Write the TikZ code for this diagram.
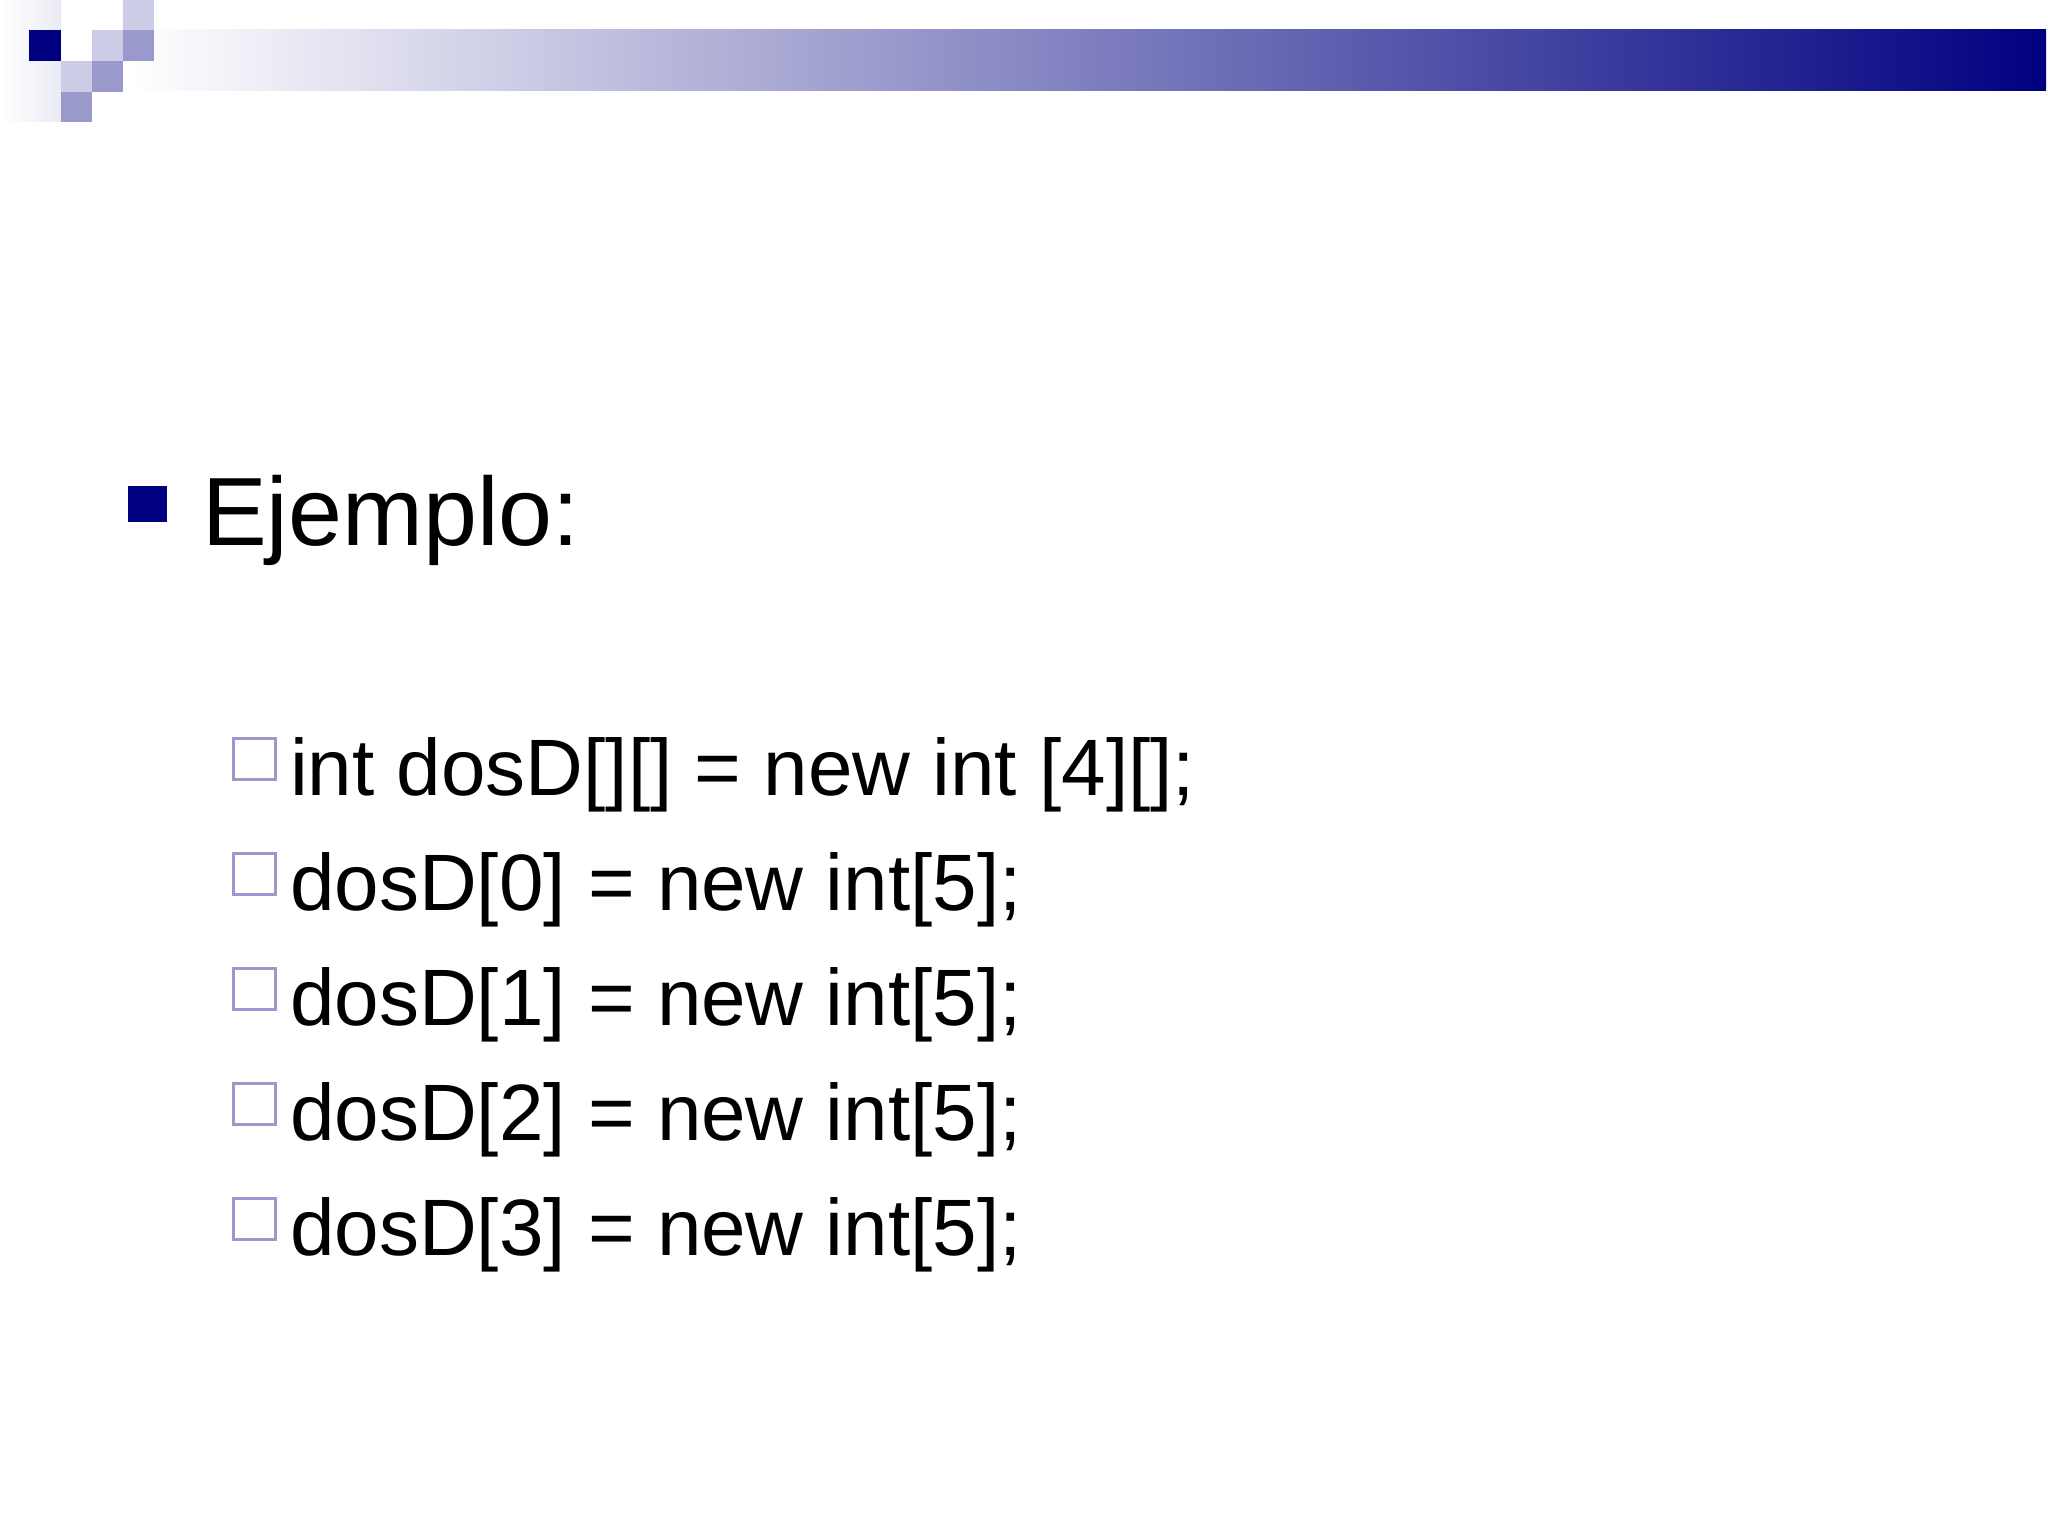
\documentclass[tikz,border=0pt]{standalone}
\usepackage{fontspec}
\setmainfont{Liberation Sans}
\definecolor{navy}{RGB}{0,0,128}
\definecolor{lt}{RGB}{204,204,230}
\definecolor{md}{RGB}{153,153,204}
\tikzset{txt/.style={anchor=base west,inner sep=0pt,font=\fontsize{80}{80}\selectfont},
 hbox/.style={draw=md,line width=3pt}}
\begin{document}
\begin{tikzpicture}[x=1pt,y=-1pt]
\useasboundingbox (0,0) rectangle (2048,1536);
\fill[white] (0,0) rectangle (2048,1536);
\shade[left color=white,right color=navy] (130,30) rectangle (2046,91);
\fill[left color=white,right color=lt!40,shading=axis] (0,0) rectangle (61,122);
\fill[navy] (29,30) rectangle (61,61);
\fill[lt] (123,0) rectangle (154,30);
\fill[lt] (92,30) rectangle (123,61);
\fill[md] (123,30) rectangle (154,61);
\fill[lt] (61,61) rectangle (92,92);
\fill[md] (92,61) rectangle (123,92);
\fill[md] (61,92) rectangle (92,122);
\fill[navy] (128,486) rectangle (167,522);
\node[anchor=base west,inner sep=0pt,font=\fontsize{97}{97}\selectfont] (ej) at (202,545) {Ejemplo:};
\foreach \y/\t [count=\i] in {795/{int dosD[][] = new int [4][];},910/{dosD[0] = new int[5];},1025/{dosD[1] = new int[5];},1140/{dosD[2] = new int[5];},1255/{dosD[3] = new int[5];}}{
  \draw[hbox] (233,\y-57) rectangle (275,\y-16);
  \node[txt] (t\i) at (290,\y) {\t};
}
\end{tikzpicture}
\end{document}
